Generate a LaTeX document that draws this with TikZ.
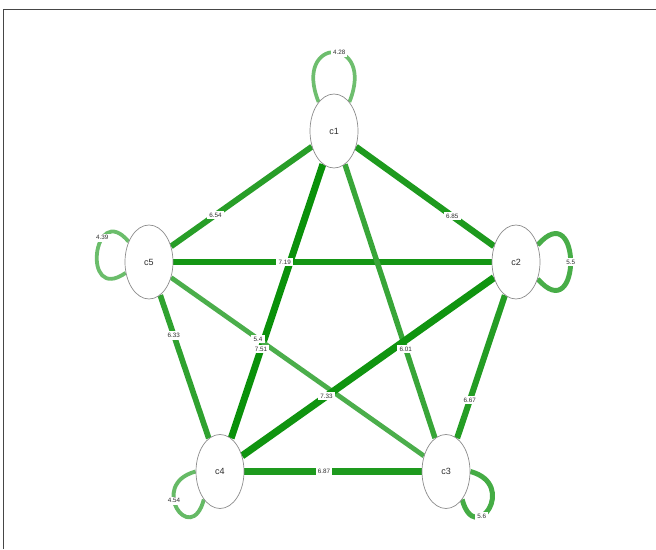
\documentclass[tikz,border=0pt]{standalone}
\usepackage{fontspec}
\setmainfont{Liberation Sans}
\usetikzlibrary{shapes.geometric}
\definecolor{hig}{RGB}{10,145,10}
\definecolor{log}{RGB}{110,190,110}
\definecolor{txt}{RGB}{45,45,45}
\pgfdeclarelayer{bg}
\pgfsetlayers{bg,main}
\begin{document}
\begin{tikzpicture}[x=1pt,y=1pt,
  nd/.style={ellipse, draw=gray!90, line width=0.7pt, fill=white,
    minimum width=48pt, minimum height=74pt, inner sep=0pt,
    font=\fontsize{9}{9}\selectfont, text=txt},
  e/.style 2 args={line width=#1pt, draw=hig!#2!log},
  lbl/.style={fill=white, inner xsep=2.2pt, inner ysep=2pt, font=\fontsize{6.3}{6.3}\selectfont, text=txt},
  frame/.style={draw=gray!55!black, line width=1.3pt}]
\useasboundingbox (0,0) rectangle (656,549);
\draw[frame] (3.5,0) -- (3.5,539.5) -- (656,539.5);

\node[nd] (c1) at (334,418) {c1};
\node[nd] (c2) at (516,287) {c2};
\node[nd] (c3) at (446,77.5) {c3};
\node[nd] (c4) at (220,77.5) {c4};
\node[nd] (c5) at (149,287) {c5};

\begin{pgfonlayer}{bg}
\draw[e={5.9}{70}] (c1) -- (c5);
\draw[e={6.3}{80}] (c1) -- (c2);
\draw[e={6.6}{90}] (c2) -- (c5);
\draw[e={6.9}{100}] (c1) -- (c4);
\draw[e={5.4}{54}] (c1) -- (c3);
\draw[e={4.8}{35}] (c3) -- (c5);
\draw[e={5.7}{63}] (c4) -- (c5);
\draw[e={7.2}{94}] (c2) -- (c4);
\draw[e={6.1}{74}] (c2) -- (c3);
\draw[e={6.3}{80}] (c4) -- (c3);
% self loops
\draw[e={3.7}{0}] (c1.118) .. controls +(112:72) and +(68:72) .. (c1.62)
  node[lbl,pos=0.56] {4.28};
\draw[e={4.9}{38}] (c2.38) .. controls +(49:67) and +(-49:67) .. (c2.-38)
  node[lbl,pos=0.5] {5.5};
\draw[e={3.8}{3}] (c5.135) .. controls +(130:55) and +(215:55) .. (c5.205)
  node[lbl,pos=0.33] {4.39};
\draw[e={3.9}{8}] (c4.180) .. controls +(195:50) and +(255:50) .. (c4.240)
  node[lbl,pos=0.4] {4.54};
\draw[e={5.0}{41}] (c3.0) .. controls +(-15:50) and +(-75:50) .. (c3.-60)
  node[lbl,pos=0.65] {5.6};
\end{pgfonlayer}

% edge labels
\path (c1.center) -- node[lbl,pos=0.64] {6.54} (c5.center);
\path (c1.center) -- node[lbl,pos=0.65] {6.85} (c2.center);
\path (c2.center) -- node[lbl,pos=0.63] {7.19} (c5.center);
\path (c4.center) -- node[lbl,pos=0.65] {6.33} (c5.center);
\path (c2.center) -- node[lbl,pos=0.66] {6.67} (c3.center);
\path (c4.center) -- node[lbl,pos=0.46] {6.87} (c3.center);
\path (c3.center) -- node[lbl,pos=0.633] {5.4} (c5.center);
\path (c1.center) -- node[lbl,pos=0.64] {7.51} (c4.center);
\path (c1.center) -- node[lbl,pos=0.64] {6.01} (c3.center);
\path (c2.center) -- node[lbl,pos=0.64] {7.33} (c4.center);
\end{tikzpicture}
\end{document}
